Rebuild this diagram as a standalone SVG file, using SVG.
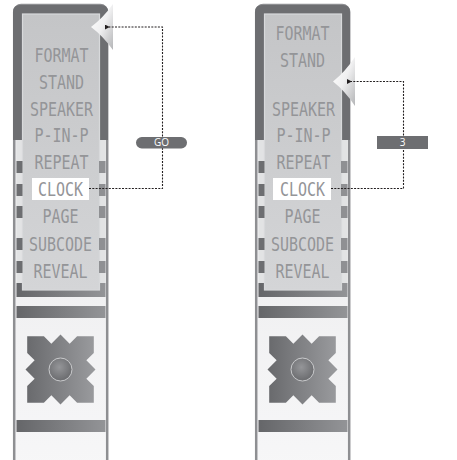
<svg xmlns="http://www.w3.org/2000/svg" width="457" height="460" viewBox="0 0 457 460">
<style>
.frame{fill:#6d6e71}
.outer{fill:url(#bodyG);stroke:#8e8f92;stroke-width:2.5}
.screen{fill:url(#screenG);stroke:#d8d9db;stroke-width:1.2}
.light{fill:#e2e3e4}
.dl{fill:#6d6e71}
.dr{fill:#8f9093}
.bar{fill:url(#barG)}
.item{font-family:"DejaVu Sans Mono","Liberation Mono",monospace;font-size:15px;fill:#949598;text-anchor:middle}
.hl{fill:#ffffff}
.conn{fill:none;stroke:#231f20;stroke-width:1.1;stroke-dasharray:2 1.3}
.tag{fill:#6d6e71}
.tagtxt{font-family:"Open Sans","Liberation Sans",sans-serif;font-size:10px;fill:#ffffff;text-anchor:middle}
.ptr{fill:url(#ptrG)}
</style>
<defs>
<linearGradient id="bodyG" x1="0" y1="0" x2="0" y2="1">
<stop offset="0" stop-color="#e6e6e8"/>
<stop offset="1" stop-color="#f7f7f8"/>
</linearGradient>
<linearGradient id="screenG" x1="0" y1="0" x2="0" y2="1">
<stop offset="0" stop-color="#c4c5c7"/>
<stop offset="1" stop-color="#d4d5d7"/>
</linearGradient>
<linearGradient id="barG" x1="0" y1="0" x2="1" y2="0">
<stop offset="0" stop-color="#656669"/>
<stop offset="1" stop-color="#939497"/>
</linearGradient>
<linearGradient id="xG" x1="0" y1="0" x2="1" y2="0">
<stop offset="0" stop-color="#68696c"/>
<stop offset="1" stop-color="#9a9b9e"/>
</linearGradient>
<radialGradient id="dotG" cx="0.45" cy="0.4" r="0.6">
<stop offset="0" stop-color="#959699"/>
<stop offset="1" stop-color="#6a6b6e"/>
</radialGradient>
<linearGradient id="ptrG" x1="0" y1="0" x2="1" y2="1">
<stop offset="0" stop-color="#ffffff"/>
<stop offset="0.5" stop-color="#f0f0f1"/>
<stop offset="1" stop-color="#b4b5b7"/>
</linearGradient>
<marker id="ah" viewBox="0 0 6 6" refX="1" refY="3" markerWidth="5" markerHeight="5" orient="auto-start-reverse" markerUnits="userSpaceOnUse">
<path d="M0,3 L6,0 L6,6 Z" fill="#231f20"/>
</marker>
<g id="device">
<rect class="outer" x="14.2" y="5" width="93" height="470" rx="7"/>
<path class="frame" d="M13,140 V12 Q13,5 20,5 H101 Q108,5 108,12 V140 Z"/>
<rect class="light" x="16.5" y="140" width="6" height="143"/>
<rect class="light" x="99" y="140" width="6.5" height="143"/>
<rect class="bar" x="16.5" y="283" width="89" height="14"/>
<rect class="screen" x="22.5" y="14" width="77" height="276"/>
<rect class="bar" x="16.5" y="306" width="89" height="12"/>
<rect class="bar" x="16.5" y="420" width="89" height="12"/>
<path fill="url(#xG)" transform="translate(60.5,369.5)" d="M0,-35 L9.15,-25.85 L16.6,-33.3 L33.3,-33.3 L33.3,-16.6 L25.85,-9.15 L35,0 L25.85,9.15 L33.3,16.6 L33.3,33.3 L16.6,33.3 L9.15,25.85 L0,35 L-9.15,25.85 L-16.6,33.3 L-33.3,33.3 L-33.3,16.6 L-25.85,9.15 L-35,0 L-25.85,-9.15 L-33.3,-16.6 L-33.3,-33.3 L-16.6,-33.3 L-9.15,-25.85 Z"/>
<circle cx="60.5" cy="369.5" r="11.5" fill="url(#dotG)" stroke="#c9cacc" stroke-width="1"/>
</g>
</defs>

<g id="panel-left">
<use href="#device"/>
<rect class="dl" x="16.5" y="161" width="6" height="12"/>
<rect class="dl" x="16.5" y="184" width="6" height="12"/>
<rect class="dl" x="16.5" y="206" width="6" height="12"/>
<rect class="dl" x="16.5" y="238" width="6" height="12"/>
<rect class="dl" x="16.5" y="261" width="6" height="12"/>
<rect class="dr" x="99" y="161" width="6.5" height="12"/>
<rect class="dr" x="99" y="184" width="6.5" height="12"/>
<rect class="dr" x="99" y="206" width="6.5" height="12"/>
<rect class="dr" x="99" y="238" width="6.5" height="12"/>
<rect class="dr" x="99" y="261" width="6.5" height="12"/>
<rect class="hl" x="32" y="178" width="57" height="22"/>
<g id="l-format"><text class="item" transform="translate(61.5,62) scale(1,1.35)">FORMAT</text></g>
<g id="l-stand"><text class="item" transform="translate(61.5,88.5) scale(1,1.35)">STAND</text></g>
<g id="l-speaker"><text class="item" transform="translate(61.5,115.5) scale(1,1.35)">SPEAKER</text></g>
<g id="l-pinp"><text class="item" transform="translate(61.5,142) scale(1,1.35)">P-IN-P</text></g>
<g id="l-repeat"><text class="item" transform="translate(61.5,168.5) scale(1,1.35)">REPEAT</text></g>
<g id="l-clock"><text class="item" transform="translate(60.5,196) scale(1,1.35)">CLOCK</text></g>
<g id="l-page"><text class="item" transform="translate(60.5,223) scale(1,1.35)">PAGE</text></g>
<g id="l-subcode"><text class="item" transform="translate(60.5,251) scale(1,1.35)">SUBCODE</text></g>
<g id="l-reveal"><text class="item" transform="translate(60.5,278) scale(1,1.35)">REVEAL</text></g>
<path id="l-pointer" class="ptr" d="M91,27 Q103,18 113,4 L113,50 Q103,36 91,27 Z"/>
</g>

<g id="panel-right">
<use href="#device" transform="translate(242,0)"/>
<rect class="dl" x="258.5" y="161" width="6" height="12"/>
<rect class="dl" x="258.5" y="184" width="6" height="12"/>
<rect class="dl" x="258.5" y="206" width="6" height="12"/>
<rect class="dl" x="258.5" y="238" width="6" height="12"/>
<rect class="dl" x="258.5" y="261" width="6" height="12"/>
<rect class="dr" x="341" y="161" width="6.5" height="12"/>
<rect class="dr" x="341" y="184" width="6.5" height="12"/>
<rect class="dr" x="341" y="206" width="6.5" height="12"/>
<rect class="dr" x="341" y="238" width="6.5" height="12"/>
<rect class="dr" x="341" y="261" width="6.5" height="12"/>
<rect class="hl" x="273" y="178" width="58" height="22"/>
<g id="r-format"><text class="item" transform="translate(302.5,40) scale(1,1.35)">FORMAT</text></g>
<g id="r-stand"><text class="item" transform="translate(302.5,67) scale(1,1.35)">STAND</text></g>
<g id="r-speaker"><text class="item" transform="translate(303.5,115.5) scale(1,1.35)">SPEAKER</text></g>
<g id="r-pinp"><text class="item" transform="translate(303.5,142) scale(1,1.35)">P-IN-P</text></g>
<g id="r-repeat"><text class="item" transform="translate(303.5,168.5) scale(1,1.35)">REPEAT</text></g>
<g id="r-clock"><text class="item" transform="translate(302.5,196) scale(1,1.35)">CLOCK</text></g>
<g id="r-page"><text class="item" transform="translate(302.5,223) scale(1,1.35)">PAGE</text></g>
<g id="r-subcode"><text class="item" transform="translate(302.5,251) scale(1,1.35)">SUBCODE</text></g>
<g id="r-reveal"><text class="item" transform="translate(302.5,278) scale(1,1.35)">REVEAL</text></g>
<path id="r-pointer" class="ptr" d="M333,81.5 Q345,72 355,57 L355,106 Q345,91 333,81.5 Z"/>
</g>

<g id="connectors">
<path class="conn" d="M89,188.5 H162.5 V27 H109" marker-end="url(#ah)"/>
<path class="conn" d="M331,188.5 H403.5 V81.5 H351" marker-end="url(#ah)"/>
</g>

<g id="label-go">
<rect class="tag" x="136" y="137" width="51" height="11.5" rx="5.75"/>
<text class="tagtxt" x="161.5" y="146.3">GO</text>
</g>
<g id="label-3">
<rect class="tag" x="377" y="136" width="51" height="13"/>
<text class="tagtxt" x="402.5" y="146.3">3</text>
</g>
</svg>
